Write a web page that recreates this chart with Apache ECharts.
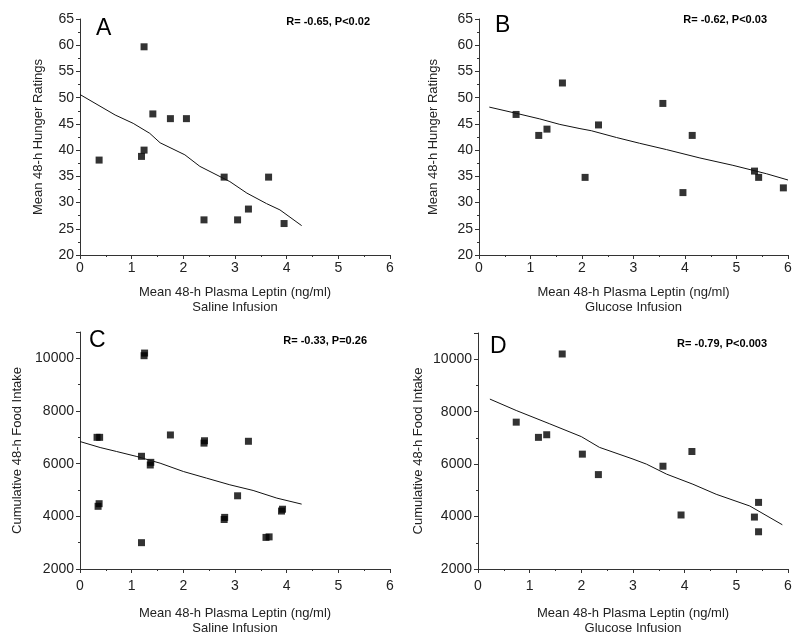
<!DOCTYPE html>
<html><head><meta charset="utf-8">
<script src="https://cdn.jsdelivr.net/npm/echarts@6/dist/echarts.min.js"></script>
<style>html,body{margin:0;padding:0;background:#fff}#c{width:800px;height:634px}</style>
</head><body><div id="c"></div>
<script>
// Panel A: saline, hunger
const aX = [0.37, 1.24, 1.41, 1.75, 2.06, 1.24, 1.19, 2.79, 3.65, 2.40, 3.05, 3.26, 3.95];
const aY = [38.1, 59.7, 46.9, 46.0, 46.0, 40.0, 38.8, 34.85, 34.85, 26.7, 26.7, 28.76, 26.0];
const aLineX = [0, 0.68, 1.03, 1.35, 1.55, 2.03, 2.32, 2.90, 3.23, 3.61, 3.87, 4.29];
const aLineY = [50.6, 46.7, 45.1, 43.2, 41.4, 39.1, 36.9, 34.0, 31.8, 29.8, 28.6, 25.6];
// Panel B: glucose, hunger
const bX = [0.72, 1.16, 1.32, 1.62, 2.32, 2.06, 3.57, 4.14, 3.96, 5.35, 5.43, 5.91];
const bY = [46.8, 42.8, 44.0, 52.8, 44.8, 34.8, 48.9, 42.8, 31.9, 36.0, 34.8, 32.8];
const bLineX = [0.2, 0.73, 1.18, 1.57, 1.96, 2.18, 2.67, 3.12, 3.64, 4.29, 4.93, 5.58, 6.0];
const bLineY = [48.2, 47.0, 45.95, 44.9, 44.1, 43.7, 42.4, 41.3, 40.1, 38.5, 37.1, 35.5, 34.3];
// Panel C: saline, food intake
const cX = [0.33, 0.38, 0.35, 0.37, 1.24, 1.25, 1.19, 1.19, 1.36, 1.37, 1.75, 2.40, 2.41, 3.26, 3.05, 2.79, 2.80, 3.60, 3.66, 3.90, 3.92];
const cY = [7000, 7000, 4380, 4480, 10100, 10200, 3000, 6280, 5950, 6050, 7090, 6780, 6870, 6850, 4780, 3880, 3960, 3200, 3220, 4200, 4270];
const cLineX = [0, 0.39, 0.71, 1.10, 1.55, 2.00, 2.45, 2.90, 3.35, 3.81, 4.29];
const cLineY = [6840, 6613, 6461, 6272, 6019, 5703, 5450, 5197, 4983, 4692, 4464];
// Panel D: glucose, food intake
const dX = [0.74, 1.17, 1.33, 1.63, 2.02, 2.33, 3.58, 4.14, 3.93, 5.35, 5.43, 5.43];
const dY = [7600, 7020, 7120, 10200, 6380, 5600, 5920, 6480, 4060, 3980, 4540, 3420];
const dLineX = [0.23, 0.74, 1.39, 2.00, 2.35, 3.00, 3.26, 3.65, 4.16, 4.61, 5.26, 5.89];
const dLineY = [8480, 8045, 7534, 7048, 6639, 6192, 6000, 5617, 5233, 4850, 4403, 3687];

const hungerTicks = {min: 20, max: 65, interval: 5};
const foodTicks = {min: 2000, max: 11000, interval: 2000};
const leptinTicks = {min: 0, max: 6, interval: 1};

const xName = 'Mean 48-h Plasma Leptin (ng/ml)';
const yHunger = 'Mean 48-h Hunger Ratings';
const yFood = 'Cumulative 48-h Food Intake';

const FONT = 'Liberation Sans, Arial, sans-serif';
const zip = (xs, ys) => xs.map((x, i) => [x, ys[i]]);

const grids = [
  {left: 80, top: 19, width: 310, height: 236, outerBoundsMode: 'none', containLabel: false},
  {left: 479, top: 19, width: 309, height: 236, outerBoundsMode: 'none', containLabel: false},
  {left: 80, top: 332, width: 310, height: 237, outerBoundsMode: 'none', containLabel: false},
  {left: 478, top: 333, width: 310, height: 236, outerBoundsMode: 'none', containLabel: false}
];

function xAx(i, sub, gap, margin) {
  return {
    gridIndex: i, type: 'value', min: leptinTicks.min, max: leptinTicks.max, interval: leptinTicks.interval,
    name: xName + '\n' + sub, nameLocation: 'middle', nameGap: gap,
    nameTextStyle: {fontFamily: FONT, fontSize: 13, color: '#222', lineHeight: 15},
    axisLine: {show: true, lineStyle: {color: '#333', width: 1}},
    axisTick: {show: true, length: 4, inside: false, lineStyle: {color: '#333'}},
    minorTick: {show: true, splitNumber: 2, length: 2, lineStyle: {color: '#333'}},
    splitLine: {show: false},
    axisLabel: {fontFamily: FONT, fontSize: 14, color: '#222', margin: margin}
  };
}
function yAx(i, t, name, gap) {
  return {
    gridIndex: i, type: 'value', min: t.min, max: t.max, interval: t.interval,
    name: name, nameLocation: 'middle', nameGap: gap, nameRotate: 90,
    nameTextStyle: {fontFamily: FONT, fontSize: 13, color: '#222'},
    axisLine: {show: true, lineStyle: {color: '#333', width: 1}},
    axisTick: {show: true, length: 4, inside: false, lineStyle: {color: '#333'}},
    minorTick: {show: true, splitNumber: 2, length: 2, lineStyle: {color: '#333'}},
    splitLine: {show: false},
    axisLabel: {fontFamily: FONT, fontSize: 14, color: '#222', margin: 6, showMaxLabel: t.max % t.interval === 0,
      formatter: v => String(v)}
  };
}

function scatter(i, xs, ys) {
  return {type: 'scatter', xAxisIndex: i, yAxisIndex: i, data: zip(xs, ys), symbol: 'rect', symbolSize: 7,
    itemStyle: {color: '#000'}, silent: true};
}
function line(i, xs, ys) {
  return {type: 'line', xAxisIndex: i, yAxisIndex: i, data: zip(xs, ys), symbol: 'none',
    lineStyle: {color: '#111', width: 1}, silent: true};
}

function txt(x, y, s, size, weight, align) {
  return {type: 'text', x: x, y: y, style: {text: s, fontFamily: FONT, fontSize: size, fontWeight: weight,
    fill: '#000', align: align, verticalAlign: 'middle'}};
}

const option = {
  animation: false,
  grid: grids,
  xAxis: [xAx(0, 'Saline Infusion', 30, 6), xAx(1, 'Glucose Infusion', 30, 6), xAx(2, 'Saline Infusion', 37, 10), xAx(3, 'Glucose Infusion', 37, 10)],
  yAxis: [yAx(0, hungerTicks, yHunger, 35), yAx(1, hungerTicks, yHunger, 39), yAx(2, foodTicks, yFood, 56), yAx(3, foodTicks, yFood, 53)],
  series: [
    scatter(0, aX, aY), line(0, aLineX, aLineY),
    scatter(1, bX, bY), line(1, bLineX, bLineY),
    scatter(2, cX, cY), line(2, cLineX, cLineY),
    scatter(3, dX, dY), line(3, dLineX, dLineY)
  ],
  graphic: [
    txt(96, 29, 'A', 23, 'normal', 'left'),
    txt(495, 26, 'B', 23, 'normal', 'left'),
    txt(89, 341, 'C', 23, 'normal', 'left'),
    txt(490, 347, 'D', 23, 'normal', 'left'),
    txt(370, 22, 'R= -0.65, P<0.02', 11, 'bold', 'right'),
    txt(767, 20, 'R= -0.62, P<0.03', 11, 'bold', 'right'),
    txt(367, 341, 'R= -0.33, P=0.26', 11, 'bold', 'right'),
    txt(767, 344, 'R= -0.79, P<0.003', 11, 'bold', 'right')
  ]
};
const chart = echarts.init(document.getElementById('c'), null, {renderer: 'canvas'});
chart.setOption(option);
</script></body></html>
